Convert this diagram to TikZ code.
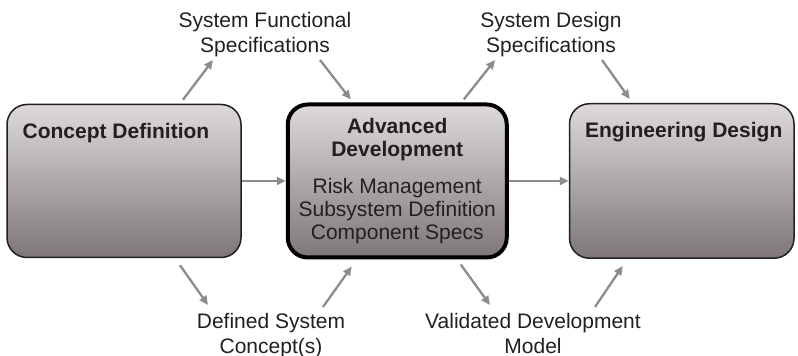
\documentclass[tikz,border=0pt]{standalone}
\usepackage{fontspec}
\setmainfont{Liberation Sans}
\usetikzlibrary{arrows.meta,positioning,calc}

\definecolor{inkdark}{RGB}{35,31,32}
\definecolor{boxtop}{RGB}{222,218,219}
\definecolor{boxbot}{RGB}{126,118,121}
\definecolor{arrowgray}{RGB}{140,140,140}

\begin{document}
\begin{tikzpicture}[
  phase/.style={rectangle, draw=inkdark, rounded corners=10pt, line width=0.75pt,
                top color=boxtop, bottom color=boxbot, inner sep=0pt},
  current/.style={phase, line width=2pt, draw=black, align=center,
                  font=\fontsize{10.5}{11.5}\selectfont, text=inkdark},
  title/.style={font=\fontsize{10.5}{12.5}\selectfont\bfseries, text=inkdark,
                anchor=base west, inner sep=0pt},
  output/.style={font=\fontsize{10.5}{12.5}\selectfont, text=inkdark,
                 align=center, inner sep=0pt},
  flow/.style={draw=arrowgray, line width=1.15pt,
               -{Triangle[length=4.5pt, width=4pt]}},
]
  \useasboundingbox (0pt,0pt) rectangle (399pt,178pt);

  % the three phases
  \node[phase, minimum width=117pt, minimum height=76.5pt] (concept)
    at (62pt,87.5pt) {};
  \node[current, minimum width=109.5pt, minimum height=76.5pt,
        right=22pt of concept] (advanced)
    {\textbf{Advanced}\\\textbf{Development}\\[7pt]
     Risk Management\\Subsystem Definition\\Component Specs};
  \node[phase, minimum width=112.25pt, minimum height=77.25pt,
        right=30pt of advanced] (engineering) {};

  \node[title] (conceptT) at ([shift={(8pt,-17.5pt)}]concept.north west)
    {Concept Definition};
  \node[title] (engineeringT) at ([shift={(8pt,-17.5pt)}]engineering.north west)
    {Engineering Design};

  % outputs of each phase
  \node[output, anchor=south] (sfs) at (132.5pt,149.3pt)
    {System Functional\\Specifications};
  \node[output, anchor=south] (sds) at (275.5pt,149.3pt)
    {System Design\\Specifications};
  \node[output, anchor=north] (dsc) at (135.5pt,21.6pt)
    {Defined System\\Concept(s)};
  \node[output, anchor=north] (vdm) at (266.5pt,21.6pt)
    {Validated Development\\Model};

  \draw[flow] (concept.east) -- (advanced.west);
  \draw[flow] (advanced.east) -- (engineering.west);

  \draw[flow] ([shift={(29.5pt,2pt)}]concept.north) -- ([shift={(-26pt,-1.3pt)}]sfs.south);
  \draw[flow] ([shift={(27.5pt,-1.3pt)}]sfs.south) -- ([shift={(-23.25pt,1.5pt)}]advanced.north);
  \draw[flow] ([shift={(33.25pt,1.5pt)}]advanced.north) -- ([shift={(-28pt,-1.3pt)}]sds.south);
  \draw[flow] ([shift={(25.5pt,-1.3pt)}]sds.south) -- ([shift={(-26pt,2pt)}]engineering.north);

  \draw[flow] ([shift={(28pt,-3.5pt)}]concept.south) -- ([shift={(-31.5pt,3.9pt)}]dsc.north);
  \draw[flow] ([shift={(26pt,2.9pt)}]dsc.north) -- ([shift={(-22.75pt,-3.5pt)}]advanced.south);
  \draw[flow] ([shift={(31.75pt,-2.5pt)}]advanced.south) -- ([shift={(-21.5pt,3.9pt)}]vdm.north);
  \draw[flow] ([shift={(31pt,2.9pt)}]vdm.north) -- ([shift={(-29.5pt,-3.5pt)}]engineering.south);
\end{tikzpicture}
\end{document}
